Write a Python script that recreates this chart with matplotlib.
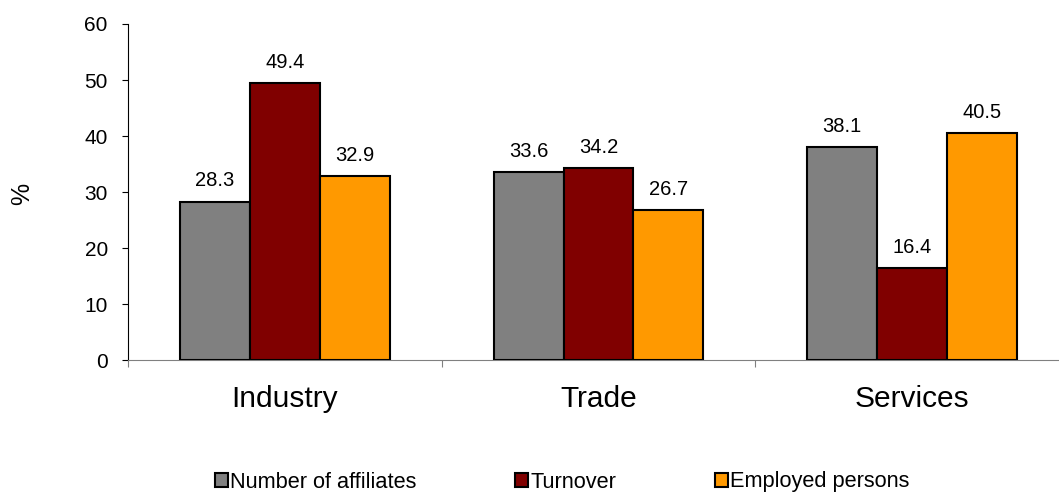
import matplotlib
matplotlib.use('Agg')
import matplotlib.pyplot as plt
import numpy as np
from matplotlib.patches import Patch

plt.rcParams['font.family'] = ['Liberation Sans', 'DejaVu Sans']

categories = ['Industry', 'Trade', 'Services']
series_names = ['Number of affiliates', 'Turnover', 'Employed persons']
affiliates = [28.3, 33.6, 38.1]
turnover = [49.4, 34.2, 16.4]
employed = [32.9, 26.7, 40.5]
colors = ['#808080', '#800000', '#FF9900']

fig = plt.figure(figsize=(10.59, 4.92), dpi=100)
ax = fig.add_axes([128 / 1059, 1 - 360 / 492, 941 / 1059, 336 / 492])

x = np.arange(len(categories))
width = 0.223
for k, (vals, col) in enumerate(zip([affiliates, turnover, employed], colors)):
    pos = x + (k - 1) * width
    ax.bar(pos, vals, width, color=col, edgecolor='black', linewidth=1.5, zorder=3)
    for xp, v in zip(pos, vals):
        ax.text(xp, v + 2.7, f'{v:.1f}', ha='center', va='baseline', fontsize=14.5)

ax.set_xlim(-0.5, 2.5)
ax.set_ylim(0, 60)
ax.set_yticks(range(0, 61, 10))
ax.tick_params(axis='y', labelsize=15, length=4.5, direction='out', pad=10)
ax.set_xticks([-0.5, 0.5, 1.5, 2.5])
ax.set_xticklabels([])
ax.tick_params(axis='x', length=5, direction='out', color='#808080')
for xc, name in zip(x, categories):
    ax.text(xc, -8.4, name, ha='center', va='baseline', fontsize=21.5)

ax.spines['top'].set_visible(False)
ax.spines['right'].set_visible(False)
ax.spines['bottom'].set_color('#808080')
ax.spines['left'].set_color('black')
ax.text(-0.112, 0.494, '%', transform=ax.transAxes, rotation=90,
        ha='center', va='center', fontsize=18)

# one legend per entry so the columns keep a fixed spacing
for name, col, xl in zip(series_names, colors, [215, 515, 715]):
    h = Patch(facecolor=col, edgecolor='black', linewidth=1.5)
    fig.legend([h], [name], loc='center left', frameon=False,
               bbox_to_anchor=(xl / 1059, 1 - 482 / 492), fontsize=15.7,
               handlelength=0.6, handleheight=0.6, handletextpad=0.1,
               borderpad=0, borderaxespad=0)

fig.savefig('out.png', dpi=100, facecolor='white')
